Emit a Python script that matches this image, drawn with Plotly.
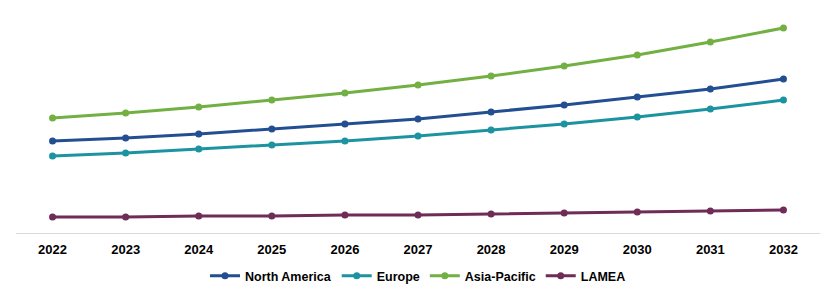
import plotly.graph_objects as go

years = ["2022", "2023", "2024", "2025", "2026", "2027", "2028", "2029", "2030", "2031", "2032"]
north_america = [92, 95, 99, 104, 109, 114, 121, 128, 136, 144, 154]
europe = [77, 80, 84, 88, 92, 97, 103, 109, 116, 124, 133]
asia_pacific = [115, 120, 126, 133, 140, 148, 157, 167, 178, 191, 205]
lamea = [16, 16, 17, 17, 18, 18, 19, 20, 21, 22, 23]

series = [
    ("North America", north_america, "#234e92"),
    ("Europe", europe, "#1c93a1"),
    ("Asia-Pacific", asia_pacific, "#72b043"),
    ("LAMEA", lamea, "#6f2c57"),
]

fig = go.Figure()
for name, vals, color in series:
    fig.add_trace(go.Scatter(
        x=years, y=vals, name=name, mode="lines+markers",
        line=dict(color=color, width=3),
        marker=dict(color=color, size=7),
    ))

fig.update_layout(
    width=835, height=295,
    margin=dict(l=16, r=15, t=10, b=62, autoexpand=False),
    paper_bgcolor="white", plot_bgcolor="white",
    font=dict(family="Liberation Sans, Arial, sans-serif", color="black"),
    showlegend=True,
    legend=dict(
        orientation="h", x=0.5, xanchor="center",
        yref="container", y=0.064, yanchor="middle",
        font=dict(size=12.5, family="Liberation Sans, Arial, sans-serif", weight="bold"),
        itemwidth=30, tracegroupgap=0,
    ),
    xaxis=dict(
        type="category", range=[-0.5, 10.5],
        showgrid=False, showline=True, linecolor="#d9d9d9", linewidth=1,
        ticks="outside", ticklen=4, tickcolor="rgba(0,0,0,0)",
        tickfont=dict(size=13, weight="bold"), zeroline=False, automargin=False,
    ),
    yaxis=dict(
        range=[0, 223], showgrid=False, showticklabels=False, zeroline=False, showline=False,
        automargin=False,
    ),
)

fig.write_html("out.html")
